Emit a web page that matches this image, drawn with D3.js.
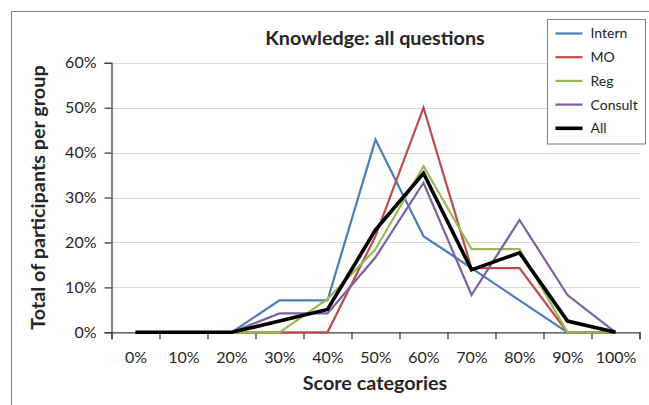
<!DOCTYPE html>
<html>
<head>
<meta charset="utf-8">
<script src="https://cdn.jsdelivr.net/npm/d3@7"></script>
<style>
  body { margin: 0; background: #fff; }
  svg { display: block; font-family: Lato, "Open Sans", sans-serif; }
</style>
</head>
<body>
<svg id="chart" width="649" height="405"></svg>
<script>
var categories = ["0%", "10%", "20%", "30%", "40%", "50%", "60%", "70%", "80%", "90%", "100%"];
var intern  = [0, 0, 0, 0.071, 0.071, 0.429, 0.214, 0.143, 0.071, 0, 0];
var mo      = [0, 0, 0, 0, 0, 0.214, 0.500, 0.143, 0.143, 0, 0];
var reg     = [0, 0, 0, 0, 0.074, 0.185, 0.370, 0.185, 0.185, 0, 0];
var consult = [0, 0, 0, 0.042, 0.042, 0.167, 0.333, 0.083, 0.250, 0.083, 0];
var all     = [0, 0, 0, 0.025, 0.051, 0.228, 0.354, 0.139, 0.177, 0.025, 0];
var yTicks = [0, 0.1, 0.2, 0.3, 0.4, 0.5, 0.6];

var series = [
    {name: "Intern",  values: intern,  color: "#4a7ebb", width: 2.2},
    {name: "MO",      values: mo,      color: "#be4b48", width: 2.2},
    {name: "Reg",     values: reg,     color: "#98b954", width: 2.2},
    {name: "Consult", values: consult, color: "#7d60a0", width: 2.2},
    {name: "All",     values: all,     color: "#000000", width: 3.6}
];

var svg = d3.select("#chart"),
    plotLeft = 111.5, plotRight = 639.5, plotTop = 62.8, plotBottom = 332.3;

// outer chart frame
svg.append("path")
    .attr("d", "M11.5,405 L11.5,11.5 L649,11.5")
    .attr("fill", "none")
    .attr("stroke", "#7f7f7f")
    .attr("stroke-width", 1);

var x = d3.scalePoint().domain(categories).range([plotLeft, plotRight]).padding(0.5),
    xEdge = d3.scaleLinear().domain([0, categories.length]).range([plotLeft, plotRight]),
    y = d3.scaleLinear().domain([0, 0.6]).range([plotBottom, plotTop]);

// gridlines
svg.append("g")
    .selectAll("line")
    .data(yTicks.slice(1))
  .enter().append("line")
    .attr("x1", plotLeft).attr("x2", plotRight)
    .attr("y1", function (d) { return Math.round(y(d)) + 0.5; })
    .attr("y2", function (d) { return Math.round(y(d)) + 0.5; })
    .attr("stroke", "#d9d9d9")
    .attr("stroke-width", 1.2);

// y axis
var yAxis = svg.append("g")
    .attr("transform", "translate(" + plotLeft + ",0)")
    .call(d3.axisLeft(y).tickValues(yTicks).tickSize(7).tickPadding(8)
        .tickFormat(d3.format(".0%")));
yAxis.select(".domain").attr("stroke", "#404040").attr("stroke-width", 1.3);
yAxis.selectAll(".tick line").attr("stroke", "#404040").attr("stroke-width", 1.3);
yAxis.selectAll("text").attr("font-size", 16).attr("fill", "#262626")
    .attr("font-family", "Lato");

// x axis: tick marks between categories, labels at centres
var xTickAxis = svg.append("g")
    .attr("transform", "translate(0," + plotBottom + ")")
    .call(d3.axisBottom(xEdge).ticks(categories.length).tickSize(7).tickFormat(""));
xTickAxis.select(".domain").attr("stroke", "#404040").attr("stroke-width", 1.3);
xTickAxis.selectAll(".tick line").attr("stroke", "#404040").attr("stroke-width", 1.3);

var xLabels = svg.append("g")
    .attr("transform", "translate(0," + plotBottom + ")")
    .call(d3.axisBottom(x).tickSize(0).tickPadding(19));
xLabels.select(".domain").remove();
xLabels.selectAll("text").attr("font-size", 16).attr("fill", "#262626")
    .attr("font-family", "Lato");

// lines
var line = d3.line()
    .x(function (d, i) { return x(categories[i]); })
    .y(function (d) { return y(d); });

svg.append("g")
    .selectAll("path")
    .data(series)
  .enter().append("path")
    .attr("d", function (d) { return line(d.values); })
    .attr("fill", "none")
    .attr("stroke", function (d) { return d.color; })
    .attr("stroke-width", function (d) { return d.width; })
    .attr("stroke-linejoin", "miter");

// titles
svg.append("text")
    .attr("x", 375).attr("y", 45)
    .attr("text-anchor", "middle")
    .attr("font-size", 19.8).attr("font-weight", "bold").attr("fill", "#262626")
    .text("Knowledge: all questions");

svg.append("text")
    .attr("x", 375).attr("y", 390)
    .attr("text-anchor", "middle")
    .attr("font-size", 19.8).attr("font-weight", "bold").attr("fill", "#262626")
    .text("Score categories");

svg.append("text")
    .attr("transform", "translate(45," + ((plotTop + plotBottom) / 2) + ") rotate(-90)")
    .attr("text-anchor", "middle")
    .attr("font-size", 19.8).attr("font-weight", "bold").attr("fill", "#262626")
    .text("Total of participants per group");

// legend
var legend = svg.append("g");
legend.append("rect")
    .attr("x", 547.5).attr("y", 19.5)
    .attr("width", 98).attr("height", 124.5)
    .attr("fill", "#fff")
    .attr("stroke", "#7f7f7f");

var item = legend.selectAll(".item")
    .data(series)
  .enter().append("g")
    .attr("class", "item")
    .attr("transform", function (d, i) { return "translate(0," + (33.5 + i * 23.7) + ")"; });
item.append("line")
    .attr("x1", 555.5).attr("x2", 582.5)
    .attr("stroke", function (d) { return d.color; })
    .attr("stroke-width", function (d) { return d.width; });
item.append("text")
    .attr("x", 590.5).attr("dy", "0.35em")
    .attr("font-size", 14).attr("fill", "#262626")
    .text(function (d) { return d.name; });
</script>
</body>
</html>
